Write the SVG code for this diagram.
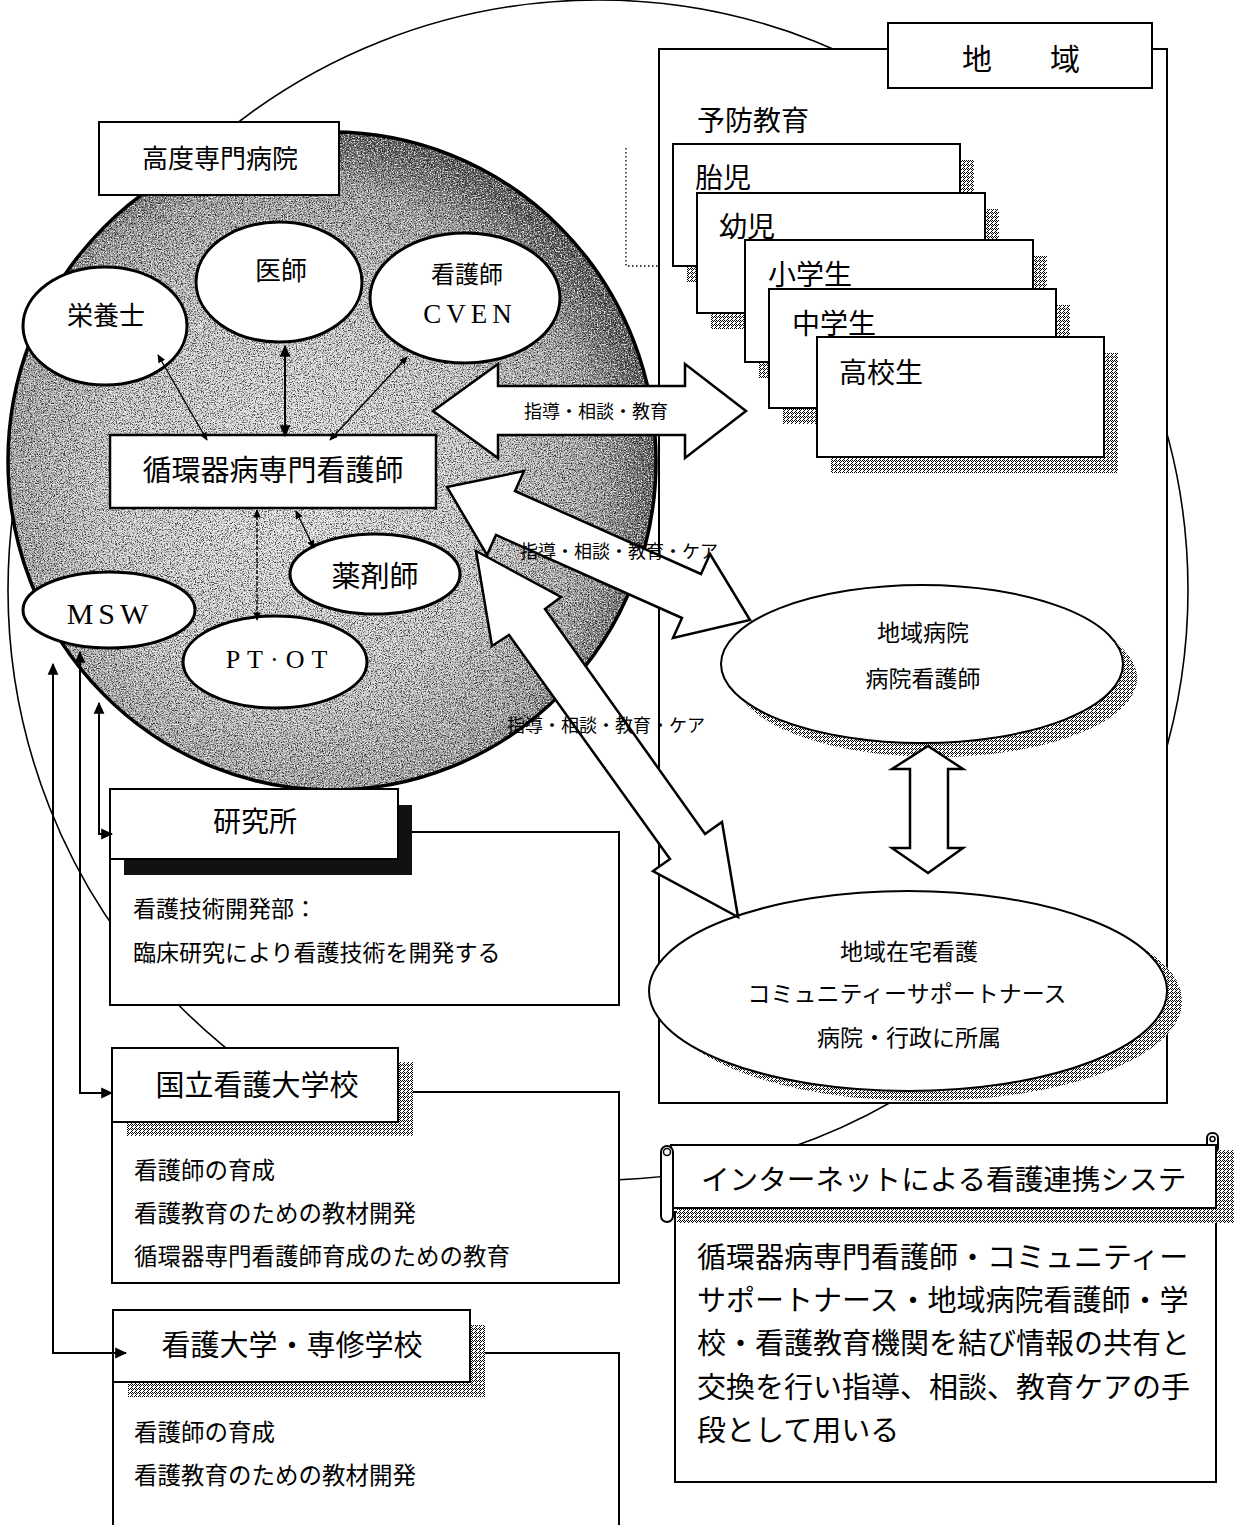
<svg xmlns="http://www.w3.org/2000/svg" width="1239" height="1525" viewBox="0 0 1239 1525">
<style>
  .jp { font-family: "Noto Sans CJK JP", "Noto Sans", sans-serif; fill: #000; dominant-baseline: central; }
  .ser { font-family: "Liberation Serif", "DejaVu Serif", serif; fill: #000; dominant-baseline: central; }
  .mid { text-anchor: middle; }
  .box { fill: #fff; stroke: #000; stroke-width: 2; }
  .oval { fill: #fff; stroke: #000; stroke-width: 3; }
  .big { fill: #fff; stroke: #000; stroke-width: 2.5; stroke-linejoin: miter; }
  .ln { fill: none; stroke: #000; stroke-width: 2; }
  .thin { fill: none; stroke: #000; stroke-width: 1.4; }
  .dith { fill: url(#dith); }
</style>
<defs>
  <pattern id="dith" width="4" height="4" patternUnits="userSpaceOnUse">
    <rect width="4" height="4" fill="#fff"/>
    <rect x="0" y="0" width="1" height="1" fill="#000"/>
    <rect x="2" y="0" width="1" height="1" fill="#000"/>
    <rect x="1" y="1" width="1" height="1" fill="#000"/>
    <rect x="3" y="1" width="1" height="1" fill="#000"/>
    <rect x="0" y="2" width="1" height="1" fill="#000"/>
    <rect x="3" y="3" width="1" height="1" fill="#000"/>
  </pattern>
  <radialGradient id="hosGrad" cx="0.45" cy="0.55" r="0.55">
    <stop offset="0" stop-color="#ececec"/>
    <stop offset="0.55" stop-color="#cfcfcf"/>
    <stop offset="0.85" stop-color="#a2a2a2"/>
    <stop offset="1" stop-color="#5a5a5a"/>
  </radialGradient>
  <filter id="grainB" x="0" y="0" width="1" height="1" color-interpolation-filters="sRGB">
    <feTurbulence type="fractalNoise" baseFrequency="0.85" numOctaves="2" seed="5" result="t"/>
    <feColorMatrix in="t" type="matrix" values="0 0 0 0 0  0 0 0 0 0  0 0 0 0 0  4 0 0 0 -1.8" result="m"/>
    <feComposite in="m" in2="SourceGraphic" operator="in"/>
  </filter>
  <filter id="grainW" x="0" y="0" width="1" height="1" color-interpolation-filters="sRGB">
    <feTurbulence type="fractalNoise" baseFrequency="0.7" numOctaves="2" seed="11" result="t"/>
    <feColorMatrix in="t" type="matrix" values="0 0 0 0 1  0 0 0 0 1  0 0 0 0 1  4 0 0 0 -1.9" result="m"/>
    <feComposite in="m" in2="SourceGraphic" operator="in"/>
  </filter>
  <marker id="ah" viewBox="0 0 10 10" refX="9" refY="5" markerWidth="6" markerHeight="6" orient="auto-start-reverse">
    <path d="M0,0.5 L10,5 L0,9.5 z" fill="#000"/>
  </marker>
</defs>

<rect width="1239" height="1525" fill="#fff"/>

<!-- big outer circle -->
<circle cx="598" cy="590" r="590" fill="none" stroke="#000" stroke-width="1.6"/>

<!-- dotted remnant -->
<path d="M626,148 L626,266 L662,266" fill="none" stroke="#000" stroke-width="1.3" stroke-dasharray="1.5,2.5"/>

<!-- 地域 area -->
<g id="region">
  <rect x="659" y="49" width="508" height="1054" class="box"/>
  <rect x="888" y="23" width="264" height="65" class="box"/>
  <text x="977" y="57" class="jp mid" font-size="30">地</text>
  <text x="1065" y="57" class="jp mid" font-size="30">域</text>
  <text x="697" y="119" class="jp" font-size="28">予防教育</text>
</g>

<g id="card-taiji">
  <rect x="687" y="160" width="287" height="122" class="dith"/>
  <rect x="673" y="144" width="287" height="122" class="box"/>
  <text x="695" y="176" class="jp" font-size="28">胎児</text>
</g>
<g id="card-youji">
  <rect x="711" y="209" width="288" height="120" class="dith"/>
  <rect x="697" y="193" width="288" height="120" class="box"/>
  <text x="719" y="225" class="jp" font-size="28">幼児</text>
</g>
<g id="card-shougaku">
  <rect x="759" y="256" width="288" height="122" class="dith"/>
  <rect x="745" y="240" width="288" height="122" class="box"/>
  <text x="768" y="273" class="jp" font-size="28">小学生</text>
</g>
<g id="card-chuugaku">
  <rect x="783" y="305" width="287" height="119" class="dith"/>
  <rect x="769" y="289" width="287" height="119" class="box"/>
  <text x="792" y="322" class="jp" font-size="28">中学生</text>
</g>
<g id="card-koukou">
  <rect x="831" y="353" width="287" height="120" class="dith"/>
  <rect x="817" y="337" width="287" height="120" class="box"/>
  <text x="839" y="371" class="jp" font-size="28">高校生</text>
</g>

<g id="chiiki-byouin">
  <ellipse cx="936" cy="678" rx="201" ry="79" class="dith"/>
  <ellipse cx="922" cy="664" rx="201" ry="79" fill="#fff" stroke="#000" stroke-width="2"/>
  <text x="923" y="631" class="jp mid" font-size="23">地域病院</text>
  <text x="923" y="677" class="jp mid" font-size="23">病院看護師</text>
</g>

<g id="zaitaku">
  <ellipse cx="923" cy="1001" rx="259" ry="100" class="dith"/>
  <ellipse cx="908" cy="991" rx="259" ry="100" fill="#fff" stroke="#000" stroke-width="2"/>
  <text x="909" y="950" class="jp mid" font-size="23">地域在宅看護</text>
  <text x="907" y="992" class="jp mid" font-size="23">コミュニティーサポートナース</text>
  <text x="909" y="1036" class="jp mid" font-size="23">病院・行政に所属</text>
</g>

<!-- hospital -->
<g id="hospital">
  <ellipse cx="332" cy="461" rx="324" ry="329" fill="url(#hosGrad)"/>
  <ellipse cx="332" cy="461" rx="324" ry="329" fill="#000" filter="url(#grainB)" opacity="0.7"/>
  <ellipse cx="332" cy="461" rx="324" ry="329" fill="#fff" filter="url(#grainW)" opacity="0.8"/>
  <ellipse cx="332" cy="461" rx="324" ry="329" fill="none" stroke="#000" stroke-width="3.5"/>
</g>
<g id="hospital-label">
  <rect x="99" y="122" width="240" height="73" class="box"/>
  <text x="220" y="156" class="jp mid" font-size="26">高度専門病院</text>
</g>

<g id="eiyoushi">
  <ellipse cx="105" cy="326" rx="82" ry="59" class="oval"/>
  <text x="106" y="313" class="jp mid" font-size="26">栄養士</text>
</g>
<g id="ishi">
  <ellipse cx="279" cy="282" rx="83" ry="60" class="oval"/>
  <text x="281" y="268" class="jp mid" font-size="26">医師</text>
</g>
<g id="cven">
  <ellipse cx="465" cy="298" rx="95" ry="65" class="oval"/>
  <text x="467" y="272" class="jp mid" font-size="24">看護師</text>
  <text x="470" y="314" class="ser mid" font-size="27" letter-spacing="5">CVEN</text>
</g>
<g id="junkanki">
  <rect x="110" y="435" width="326" height="73" fill="#fff" stroke="#000" stroke-width="2.5"/>
  <text x="273" y="468" class="jp mid" font-size="29">循環器病専門看護師</text>
</g>
<g id="yakuzaishi">
  <ellipse cx="375" cy="574" rx="85" ry="40" class="oval"/>
  <text x="375" y="574" class="jp mid" font-size="29">薬剤師</text>
</g>
<g id="msw">
  <ellipse cx="109" cy="610" rx="86" ry="38" class="oval"/>
  <text x="110" y="613" class="ser mid" font-size="30" letter-spacing="5">MSW</text>
</g>
<g id="ptot">
  <ellipse cx="275" cy="662" rx="92" ry="46" class="oval"/>
  <text x="280" y="659" class="ser mid" font-size="26" letter-spacing="7">PT·OT</text>
</g>

<!-- lower-left institutions -->
<g id="kenkyusho">
  <rect x="110" y="832" width="509" height="173" class="box"/>
  <rect x="124" y="805" width="288" height="70" fill="#111"/>
  <rect x="110" y="789" width="288" height="70" class="box"/>
  <text x="255" y="820" class="jp mid" font-size="28">研究所</text>
  <text x="133" y="907" class="jp" font-size="23">看護技術開発部：</text>
  <text x="133" y="951" class="jp" font-size="23">臨床研究により看護技術を開発する</text>
</g>
<g id="kokuritsu">
  <rect x="112" y="1092" width="507" height="191" class="box"/>
  <rect x="127" y="1062" width="286" height="74" class="dith"/>
  <rect x="112" y="1048" width="286" height="74" class="box"/>
  <text x="257" y="1083" class="jp mid" font-size="29">国立看護大学校</text>
  <text x="134" y="1169" class="jp" font-size="23.5">看護師の育成</text>
  <text x="134" y="1212" class="jp" font-size="23.5">看護教育のための教材開発</text>
  <text x="134" y="1255" class="jp" font-size="23.5">循環器専門看護師育成のための教育</text>
</g>
<g id="kango-daigaku">
  <rect x="113" y="1353" width="506" height="200" class="box"/>
  <rect x="128" y="1325" width="357" height="72" class="dith"/>
  <rect x="113" y="1310" width="357" height="72" class="box"/>
  <text x="292" y="1343" class="jp mid" font-size="29">看護大学・専修学校</text>
  <text x="134" y="1431" class="jp" font-size="23.5">看護師の育成</text>
  <text x="134" y="1474" class="jp" font-size="23.5">看護教育のための教材開発</text>
</g>

<!-- internet scroll -->
<g id="internet">
  <rect x="675" y="1212" width="541" height="270" class="box"/>
  <rect x="677" y="1150" width="557" height="73" class="dith"/>
  <rect x="1207" y="1133" width="11" height="20" rx="5" class="box"/>
  <rect x="671" y="1145" width="545" height="63" class="box"/>
  <circle cx="1212.5" cy="1139" r="2.5" fill="none" stroke="#000" stroke-width="1.5"/>
  <rect x="661" y="1146" width="12" height="76" rx="6" class="box"/>
  <circle cx="667" cy="1152" r="3.5" fill="none" stroke="#000" stroke-width="1.5"/>
  <text x="701" y="1177" class="jp" font-size="28.6">インターネットによる看護連携システ</text>
  <text x="697" y="1255" class="jp" font-size="29">循環器病専門看護師・コミュニティー</text>
  <text x="697" y="1298" class="jp" font-size="29">サポートナース・地域病院看護師・学</text>
  <text x="697" y="1341" class="jp" font-size="29">校・看護教育機関を結び情報の共有と</text>
  <text x="697" y="1385" class="jp" font-size="29">交換を行い指導、相談、教育ケアの手</text>
  <text x="697" y="1428" class="jp" font-size="29">段として用いる</text>
</g>

<!-- connectors -->
<g id="connectors">
  <!-- inner hospital arrows -->
  <line x1="158" y1="355" x2="207" y2="440" class="thin" marker-start="url(#ah)" marker-end="url(#ah)"/>
  <line x1="285" y1="346" x2="285" y2="436" fill="none" stroke="#000" stroke-width="2" marker-start="url(#ah)" marker-end="url(#ah)"/>
  <line x1="407" y1="357" x2="330" y2="440" class="thin" marker-start="url(#ah)" marker-end="url(#ah)"/>
  <line x1="257" y1="510" x2="257" y2="620" class="thin" stroke-dasharray="4,2" marker-start="url(#ah)" marker-end="url(#ah)"/>
  <line x1="296" y1="511" x2="314" y2="548" class="thin" marker-start="url(#ah)" marker-end="url(#ah)"/>

  <!-- MSW links -->
  <path d="M126,1353 L53,1353 L53,664" class="ln" marker-start="url(#ah)" marker-end="url(#ah)"/>
  <path d="M112,1093 L80,1093 L80,652" class="ln" marker-start="url(#ah)" marker-end="url(#ah)"/>
  <path d="M112,834 L99,834 L99,703" class="ln" marker-start="url(#ah)" marker-end="url(#ah)"/>

  <!-- block arrows -->
  <polygon class="big" points="433,411 498,364 498,386 685,386 685,364 746,411 685,458 685,435 498,435 498,458"/>
  <polygon class="big" points="447,487 524,471 515,491 701,574 710,554 750,620 673,638 682,618 496,535 487,555"/>
  <polygon class="big" points="476,551 561,597 545,609 705,834 722,822 738,917 653,871 670,859 509,635 492,646"/>
  <polygon class="big" points="928,746 963,769 948,769 948,848 963,848 928,873 892,848 910,848 910,769 892,769"/>

  <text x="596" y="410" class="jp mid" font-size="18">指導・相談・教育</text>
  <text x="619" y="550" class="jp mid" font-size="18">指導・相談・教育・ケア</text>
  <text x="606" y="724" class="jp mid" font-size="18">指導・相談・教育・ケア</text>
</g>
</svg>
